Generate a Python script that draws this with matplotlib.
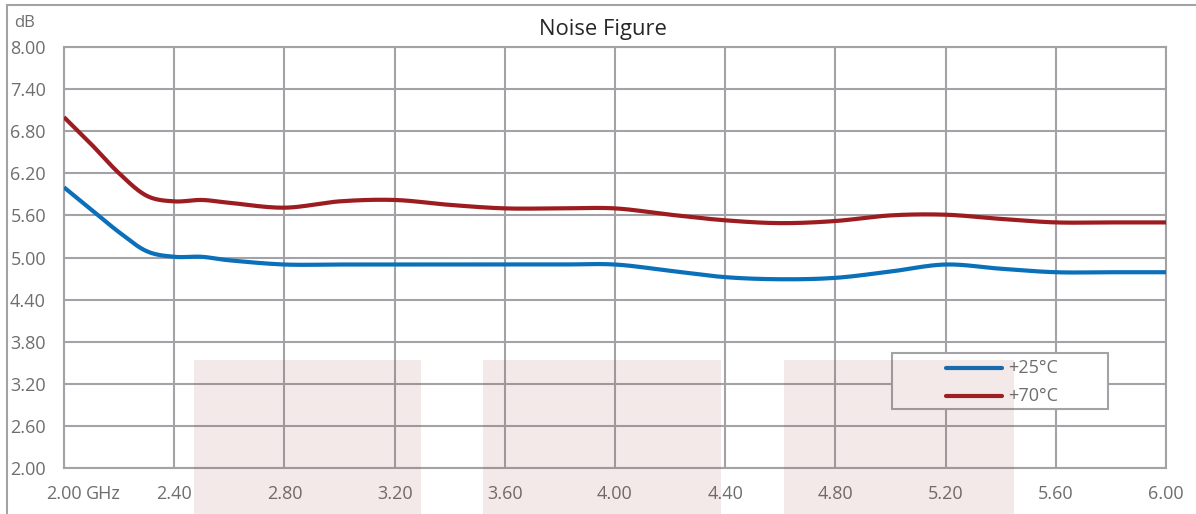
import numpy as np
import matplotlib
matplotlib.use("Agg")
import matplotlib.pyplot as plt
from matplotlib.patches import Rectangle
from matplotlib.lines import Line2D

# values (GHz, dB)
freq_ghz = [2.0, 2.1, 2.2, 2.3, 2.4, 2.5, 2.6, 2.8, 3.0, 3.2, 3.4, 3.6, 3.8,
            4.0, 4.2, 4.4, 4.6, 4.8, 5.0, 5.2, 5.4, 5.6, 5.8, 6.0]
nf_25c = [6.00, 5.68, 5.36, 5.09, 5.01, 5.01, 4.96, 4.90, 4.90, 4.90, 4.90, 4.90, 4.90,
          4.90, 4.81, 4.72, 4.69, 4.71, 4.80, 4.90, 4.84, 4.79, 4.79, 4.79]
nf_70c = [7.00, 6.61, 6.20, 5.88, 5.80, 5.82, 5.78, 5.71, 5.80, 5.82, 5.75, 5.70, 5.70,
          5.70, 5.61, 5.53, 5.49, 5.52, 5.60, 5.61, 5.55, 5.50, 5.50, 5.50]
series_labels = ["+25°C", "+70°C"]
series_colors = ["#0A70BA", "#9C1C20"]

x_ticks = np.arange(2.0, 6.001, 0.4)
y_ticks = np.arange(2.0, 8.001, 0.6)

GRID = "#A3A3A7"
TXT = "#6E6E6E"
FS = 13
plt.rcParams["font.family"] = ["Open Sans", "DejaVu Sans"]


def smooth(x, y, n=20):
    # catmull-rom style smoothing, like a spreadsheet "smoothed line"
    x = np.asarray(x, float)
    y = np.asarray(y, float)
    px = np.concatenate([[x[0]], x, [x[-1]]])
    py = np.concatenate([[y[0]], y, [y[-1]]])
    xs, ys = [], []
    t = np.linspace(0, 1, n, endpoint=False)
    for i in range(1, len(px) - 2):
        x0, x1, x2, x3 = px[i - 1:i + 3]
        y0, y1, y2, y3 = py[i - 1:i + 3]
        c1x, c1y = x1 + (x2 - x0) / 6, y1 + (y2 - y0) / 6
        c2x, c2y = x2 - (x3 - x1) / 6, y2 - (y3 - y1) / 6
        b = [(1 - t) ** 3, 3 * (1 - t) ** 2 * t, 3 * (1 - t) * t ** 2, t ** 3]
        xs.append(b[0] * x1 + b[1] * c1x + b[2] * c2x + b[3] * x2)
        ys.append(b[0] * y1 + b[1] * c1y + b[2] * c2y + b[3] * y2)
    xs.append([x[-1]])
    ys.append([y[-1]])
    return np.concatenate(xs), np.concatenate(ys)


W, H = 1196, 514
fig = plt.figure(figsize=(W / 100, H / 100), dpi=100)
ax = fig.add_axes([64 / W, 1 - 468 / H, (1166 - 64) / W, (468 - 47) / H])

# outer chart border (only top and left visible)
fig.patches.append(Rectangle((7 / W, -0.1), 1.2, 1 - 5 / H + 0.1, transform=fig.transFigure,
                             fill=False, edgecolor=GRID, linewidth=1.5, zorder=0))

for y, c, lab in zip([nf_25c, nf_70c], series_colors, series_labels):
    sx, sy = smooth(freq_ghz, y)
    ax.plot(sx, sy, color=c, linewidth=3.0, solid_capstyle="butt", label=lab, zorder=3)

ax.set_xlim(2.0, 6.0)
ax.set_ylim(2.0, 8.0)
ax.set_xticks(x_ticks)
ax.set_yticks(y_ticks)
ax.set_xticklabels([f"{v:.2f}" for v in x_ticks])
ax.set_yticklabels([f"{v:.2f}" for v in y_ticks])
ax.tick_params(length=0, labelsize=FS, labelcolor=TXT)
ax.tick_params(axis="x", pad=12)
ax.tick_params(axis="y", pad=13)
ax.grid(True, color=GRID, linewidth=1.5)
ax.set_axisbelow(True)
for s in ax.spines.values():
    s.set_color(GRID)
    s.set_linewidth(1.5)

fig.text(86 / W, 1 - 494 / H, "GHz", fontsize=FS, color=TXT, va="center", ha="left")
fig.text(14 / W, 1 - 23 / H, "dB", fontsize=12, color=TXT, va="center", ha="left")
fig.text(603 / W, 1 - 30 / H, "Noise Figure", fontsize=15.8, color="#262626",
         va="center", ha="center")

# legend box, drawn by hand to get the wide spreadsheet-style frame
fig.patches.append(Rectangle((892 / W, 1 - 409 / H), 216 / W, 56 / H, transform=fig.transFigure,
                             facecolor="white", edgecolor=GRID, linewidth=1.5, zorder=5))
for row, (c, lab) in enumerate(zip(series_colors, series_labels)):
    yy = 1 - (368 + 28 * row) / H
    fig.lines.append(Line2D([946 / W, 1002 / W], [yy, yy], transform=fig.transFigure,
                            color=c, linewidth=3, solid_capstyle="round", zorder=6))
    fig.text(1008 / W, yy, lab, fontsize=FS, color=TXT, va="center", ha="left", zorder=6)

# faint pink panels over the plot
for x0, x1 in [(194, 421), (483, 721), (784, 1014)]:
    fig.patches.append(Rectangle((x0 / W, 0), (x1 - x0) / W, 1 - 360 / H,
                                 transform=fig.transFigure, facecolor="#963C3C",
                                 alpha=0.11, edgecolor="none", zorder=10))

fig.savefig("out.png", dpi=100)
